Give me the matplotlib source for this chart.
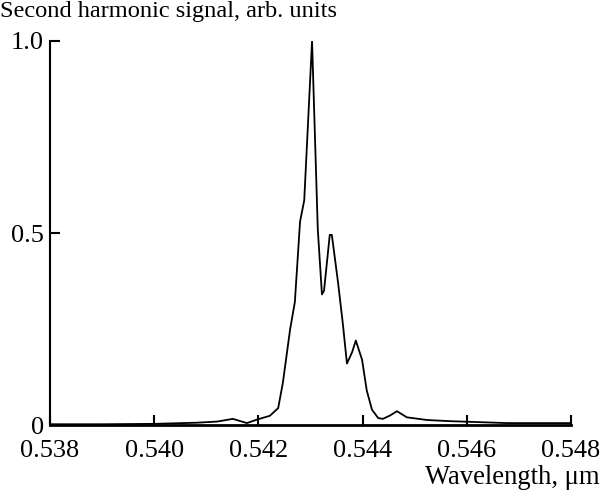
import matplotlib.pyplot as plt
import numpy as np

plt.rcParams['font.family'] = ['Liberation Serif', 'DejaVu Serif']

# wavelength (um) and normalized second harmonic signal
wavelength = [0.5380, 0.5390, 0.5400, 0.54082, 0.54121, 0.54151, 0.54178, 0.54197,
              0.54222, 0.54238, 0.54247, 0.54261, 0.54270, 0.54280, 0.54288,
              0.54303, 0.54314, 0.54322, 0.54326, 0.54337, 0.54341, 0.54353,
              0.54362, 0.54370, 0.54380, 0.54387, 0.54399, 0.54408, 0.54418,
              0.54430, 0.54439, 0.54453, 0.54466, 0.54485, 0.54524, 0.54568,
              0.54612, 0.54677, 0.54798]
signal = [0.002, 0.002, 0.003, 0.006, 0.009, 0.016, 0.005, 0.014,
          0.024, 0.044, 0.11, 0.25, 0.32, 0.53, 0.585,
          1.0, 0.51, 0.34, 0.35, 0.495, 0.495, 0.37,
          0.265, 0.16, 0.19, 0.22, 0.17, 0.09, 0.04,
          0.018, 0.016, 0.025, 0.036, 0.02, 0.013, 0.01,
          0.008, 0.005, 0.005]

xticks = [0.538, 0.540, 0.542, 0.544, 0.546, 0.548]
yticks = [0, 0.5, 1.0]
ytick_labels = ['0', '0.5', '1.0']

fig = plt.figure(figsize=(6.02, 4.91), dpi=100)
ax = fig.add_axes([0.083, 0.1344, 0.8655, 0.7821])

ax.plot(wavelength, signal, color='black', linewidth=1.3)

ax.set_xlim(0.538, 0.548)
ax.set_ylim(0, 1.0)
ax.set_xticks(xticks)
ax.set_xticklabels(['%.3f' % t for t in xticks])
ax.set_yticks(yticks)
ax.set_yticklabels(ytick_labels)

for s in ['top', 'right']:
    ax.spines[s].set_visible(False)
ax.spines['bottom'].set_linewidth(2.0)
ax.spines['left'].set_linewidth(1.5)

ax.tick_params(axis='both', direction='in', labelsize=19, color='black')
ax.tick_params(axis='x', length=7, width=1.5, pad=11)
ax.tick_params(axis='y', length=7, width=1.5, pad=4.5)

fig.text(0.0, 0.998, 'Second harmonic signal, arb. units', ha='left', va='top', fontsize=17.6)
fig.text(0.996, 0.003, 'Wavelength, μm', ha='right', va='bottom', fontsize=19.2)

fig.savefig('out.png', dpi=100)
